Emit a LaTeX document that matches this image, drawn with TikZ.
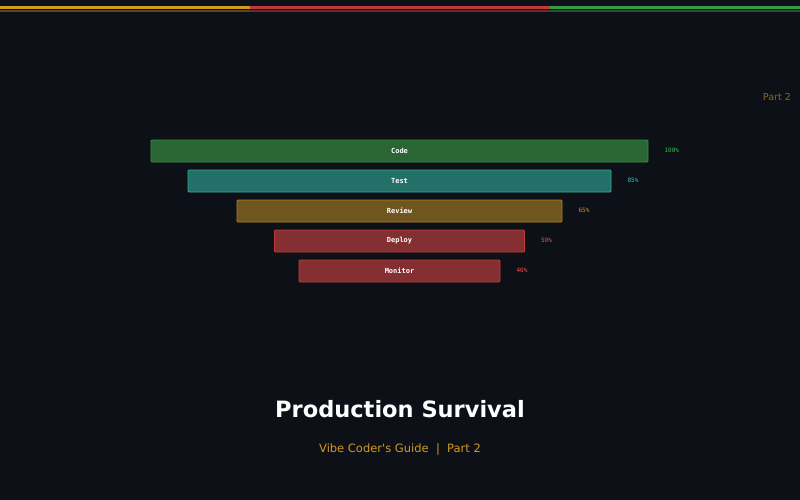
\documentclass[tikz,border=0pt]{standalone}
\usepackage{fontspec}
\setmainfont{DejaVu Sans}
\setmonofont{DejaVu Sans Mono}
\newfontfamily\plainsans{DejaVu Sans}
\usetikzlibrary{positioning}

\definecolor{bgdark}{HTML}{0D1017}
\definecolor{okgreen}{HTML}{3FB950}
\definecolor{okgreenfill}{HTML}{2A6535}
\definecolor{tealline}{HTML}{3AA89C}
\definecolor{tealfill}{HTML}{227068}
\definecolor{tealtext}{HTML}{39C5BB}
\definecolor{warnorange}{HTML}{D29922}
\definecolor{warnfill}{HTML}{6E561E}
\definecolor{warnline}{HTML}{B08020}
\definecolor{failred}{HTML}{F85149}
\definecolor{failfill}{HTML}{843032}
\definecolor{failline}{HTML}{C0393B}
\definecolor{partdim}{HTML}{8A6A25}

\begin{document}
\begin{tikzpicture}[x=1pt,y=-1pt,node distance=16pt,
  bar/.style={rectangle,rounded corners=1pt,line width=0.8pt,minimum height=22pt,
    inner sep=0pt,text=white,font=\ttfamily\bfseries\fontsize{7}{8}\selectfont},
  pct/.style={anchor=west,inner sep=0pt,font=\ttfamily\fontsize{6}{7}\selectfont}]

  \useasboundingbox (0,0) rectangle (800,500);
  \fill[bgdark] (-2,-2) rectangle (802,502);

  % colour strip on top
  \fill[warnorange] (0,6.5) rectangle (250,9);
  \fill[failline] (250,6.5) rectangle (550,9);
  \fill[okgreen!85!black] (550,6.5) rectangle (800,9);
  \fill[warnorange!40!bgdark] (0,10.5) rectangle (250,11.8);
  \fill[failred!40!bgdark] (250,10.5) rectangle (550,11.8);
  \fill[okgreen!40!bgdark] (550,10.5) rectangle (800,11.8);

  \node[anchor=east,inner sep=0pt,text=partdim,font=\fontsize{9.5}{11}\selectfont] (part) at (791,97) {Part 2};

  % funnel
  \node[bar,minimum width=497pt,fill=okgreenfill,draw=okgreen!80!black] (code) at (399.5,151) {\raisebox{1pt}{Code}};
  \node[bar,minimum width=423pt,fill=tealfill,draw=tealline] (test) at (399.5,181) {\raisebox{1pt}{Test}};
  \node[bar,minimum width=325pt,fill=warnfill,draw=warnline] (review) at (399.5,211) {\raisebox{1pt}{Review}};
  \node[bar,minimum width=250pt,fill=failfill,draw=failline] (deploy) at (399.5,241) {\raisebox{1pt}{Deploy}};
  \node[bar,minimum width=201pt,fill=failfill,draw=failline] (monitor) at (399.5,271) {\raisebox{1pt}{Monitor}};

  \node[pct,text=okgreen,right=16pt of code,yshift=1pt] (pcode) {100\%};
  \node[pct,text=tealtext,right=16pt of test,yshift=1pt] (ptest) {85\%};
  \node[pct,text=warnorange,right=16pt of review,yshift=1pt] (preview) {65\%};
  \node[pct,text=failred,right=16pt of deploy,yshift=1pt] (pdeploy) {50\%};
  \node[pct,text=failred,right=16pt of monitor,yshift=1pt] (pmonitor) {40\%};

  \node[text=white,font=\bfseries\fontsize{22.5}{27}\selectfont] (title) at (400,409) {Production Survival};
  \node[text=warnorange,font=\plainsans\fontsize{11.5}{14}\selectfont] (sub) at (400,449) {Vibe Coder's Guide \ | \ Part 2};
\end{tikzpicture}
\end{document}
